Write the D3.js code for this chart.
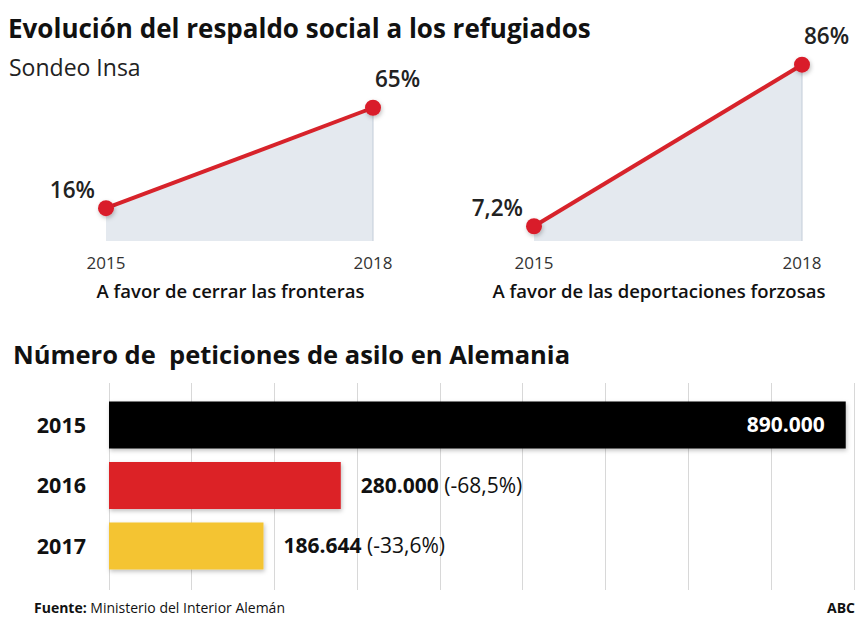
<!DOCTYPE html>
<meta charset="utf-8">
<style>
body { margin: 0; background: #fff; }
svg { font-family: "Open Sans", Lato, sans-serif; }
.titulo { font-size: 26px; font-weight: bold; fill: #111; }
.titulo2 { font-size: 25.5px; font-weight: bold; fill: #111; }
.sub { font-size: 23px; fill: #222; }
.pct { font-size: 22.5px; font-weight: 600; fill: #222; }
.anio { font-size: 17px; fill: #333; }
.rotulo { font-size: 18.5px; font-weight: 600; fill: #111; }
.barlab { font-size: 21.5px; font-weight: bold; fill: #111; }
.val { font-size: 21px; fill: #111; }
.pie { font-size: 14px; fill: #111; }
</style>
<body>
<script src="https://cdn.jsdelivr.net/npm/d3@7"></script>
<script>

// data
var lineYears = ["2015", "2018"];
var cerrarFronteras = [16, 65];
var deportaciones = [7.2, 86];
var pctLabels1 = ["16%", "65%"];
var pctLabels2 = ["7,2%", "86%"];

var barYears = ["2015", "2016", "2017"];
var peticiones = [890000, 280000, 186644];
var cambios = ["", "(-68,5%)", "(-33,6%)"];
var barColors = ["#050505", "#dc2228", "#f4c430"];

var es = d3.formatLocale({decimal: ",", thousands: ".", grouping: [3], currency: ["", "€"]});
var fmt = es.format(",d");

var svg = d3.select("body").append("svg")
    .attr("width", 863)
    .attr("height", 620);

var defs = svg.append("defs");
var sh = defs.append("filter").attr("id", "sombra")
    .attr("x", "-20%").attr("y", "-20%").attr("width", "150%").attr("height", "160%");
sh.append("feDropShadow")
    .attr("dx", 1).attr("dy", 2).attr("stdDeviation", 2)
    .attr("flood-color", "#000").attr("flood-opacity", 0.25);

// titles
svg.append("text").attr("class", "titulo")
    .attr("x", 8).attr("y", 38)
    .text("Evolución del respaldo social a los refugiados");
svg.append("text").attr("class", "sub")
    .attr("x", 9).attr("y", 76)
    .text("Sondeo Insa");

// shared y scale for both small charts
var y = d3.scaleLinear().domain([0, 100]).range([241, 36]);

function smallChart(values, labels, x0, x1, caption) {
  var x = d3.scalePoint().domain(lineYears).range([x0, x1]);
  var pts = values.map(function(v, i) { return {year: lineYears[i], v: v, label: labels[i]}; });
  var g = svg.append("g");

  g.append("path")
      .datum(pts)
      .attr("fill", "#e4e9ef")
      .attr("d", d3.area()
          .x(function(d) { return x(d.year); })
          .y0(y(0))
          .y1(function(d) { return y(d.v); }));

  g.append("line")
      .attr("x1", x(lineYears[1])).attr("x2", x(lineYears[1]))
      .attr("y1", y(values[1])).attr("y2", y(0))
      .attr("stroke", "#c3ccd8").attr("stroke-width", 1);

  g.append("path")
      .datum(pts)
      .attr("fill", "none")
      .attr("stroke", "#d7232b")
      .attr("stroke-width", 4)
      .attr("d", d3.line()
          .x(function(d) { return x(d.year); })
          .y(function(d) { return y(d.v); }));

  g.selectAll("circle")
      .data(pts)
    .enter().append("circle")
      .attr("cx", function(d) { return x(d.year); })
      .attr("cy", function(d) { return y(d.v); })
      .attr("r", 8)
      .attr("fill", "#d91f2a")
      .attr("filter", "url(#sombra)");

  g.selectAll(".pct")
      .data(pts)
    .enter().append("text")
      .attr("class", "pct")
      .attr("text-anchor", function(d, i) { return i == 0 ? "end" : "start"; })
      .attr("x", function(d, i) { return x(d.year) + (i == 0 ? -11 : 2); })
      .attr("y", function(d, i) { return y(d.v) + (i == 0 ? -10 : -21); })
      .text(function(d) { return d.label; });

  g.selectAll(".anio")
      .data(lineYears)
    .enter().append("text")
      .attr("class", "anio")
      .attr("text-anchor", "middle")
      .attr("x", function(d) { return x(d); })
      .attr("y", 269)
      .text(function(d) { return d; });

  g.append("text")
      .attr("class", "rotulo")
      .attr("text-anchor", "middle")
      .attr("x", (x0 + x1) / 2 - 9)
      .attr("y", 298)
      .text(caption);
}

smallChart(cerrarFronteras, pctLabels1, 106, 373, "A favor de cerrar las fronteras");
smallChart(deportaciones, pctLabels2, 534, 802, "A favor de las deportaciones forzosas");

// bar chart
svg.append("text").attr("class", "titulo2")
    .attr("x", 13).attr("y", 364)
    .attr("xml:space", "preserve")
    .style("white-space", "pre")
    .text("Número de  peticiones de asilo en Alemania");

var bx = d3.scaleLinear().domain([0, 900000]).range([109, 854]);
var by = d3.scaleBand().domain(barYears).range([401.5, 569.5]).paddingInner(0.223);

svg.append("g")
  .selectAll("line")
  .data(bx.ticks(9))
  .enter().append("line")
    .attr("x1", function(d) { return bx(d); })
    .attr("x2", function(d) { return bx(d); })
    .attr("y1", 383).attr("y2", 590)
    .attr("stroke", "#d8d8d8")
    .attr("stroke-width", 1)
    .attr("shape-rendering", "crispEdges");

var bars = barYears.map(function(d, i) {
  return {year: d, v: peticiones[i], cambio: cambios[i], color: barColors[i]};
});

svg.append("g")
  .selectAll("rect")
  .data(bars)
  .enter().append("rect")
    .attr("x", bx(0))
    .attr("y", function(d) { return by(d.year); })
    .attr("width", function(d) { return bx(d.v) - bx(0); })
    .attr("height", by.bandwidth())
    .attr("fill", function(d) { return d.color; })
    .attr("filter", "url(#sombra)");

svg.append("g")
  .selectAll("text")
  .data(barYears)
  .enter().append("text")
    .attr("class", "barlab")
    .attr("text-anchor", "end")
    .attr("x", 86)
    .attr("y", function(d) { return by(d) + by.bandwidth() / 2; })
    .attr("dy", "0.35em")
    .text(function(d) { return d; });

var vl = svg.append("g")
  .selectAll("text")
  .data(bars)
  .enter().append("text")
    .attr("class", "val")
    .attr("text-anchor", function(d, i) { return i == 0 ? "end" : "start"; })
    .attr("x", function(d, i) { return i == 0 ? bx(d.v) - 21 : bx(d.v) + 20; })
    .attr("y", function(d) { return by(d.year) + by.bandwidth() / 2; })
    .attr("dy", "0.35em");

vl.append("tspan")
    .attr("font-weight", "bold")
    .attr("fill", function(d, i) { return i == 0 ? "#fff" : "#111"; })
    .text(function(d) { return fmt(d.v); });
vl.append("tspan")
    .text(function(d) { return d.cambio ? " " + d.cambio : ""; });

// footer
var pie = svg.append("text").attr("class", "pie").attr("x", 34).attr("y", 613);
pie.append("tspan").attr("font-weight", "bold").text("Fuente:");
pie.append("tspan").text(" Ministerio del Interior Alemán");
svg.append("text").attr("class", "pie")
    .attr("x", 855).attr("y", 613)
    .attr("text-anchor", "end")
    .attr("font-weight", "bold")
    .text("ABC");

</script>
</body>
